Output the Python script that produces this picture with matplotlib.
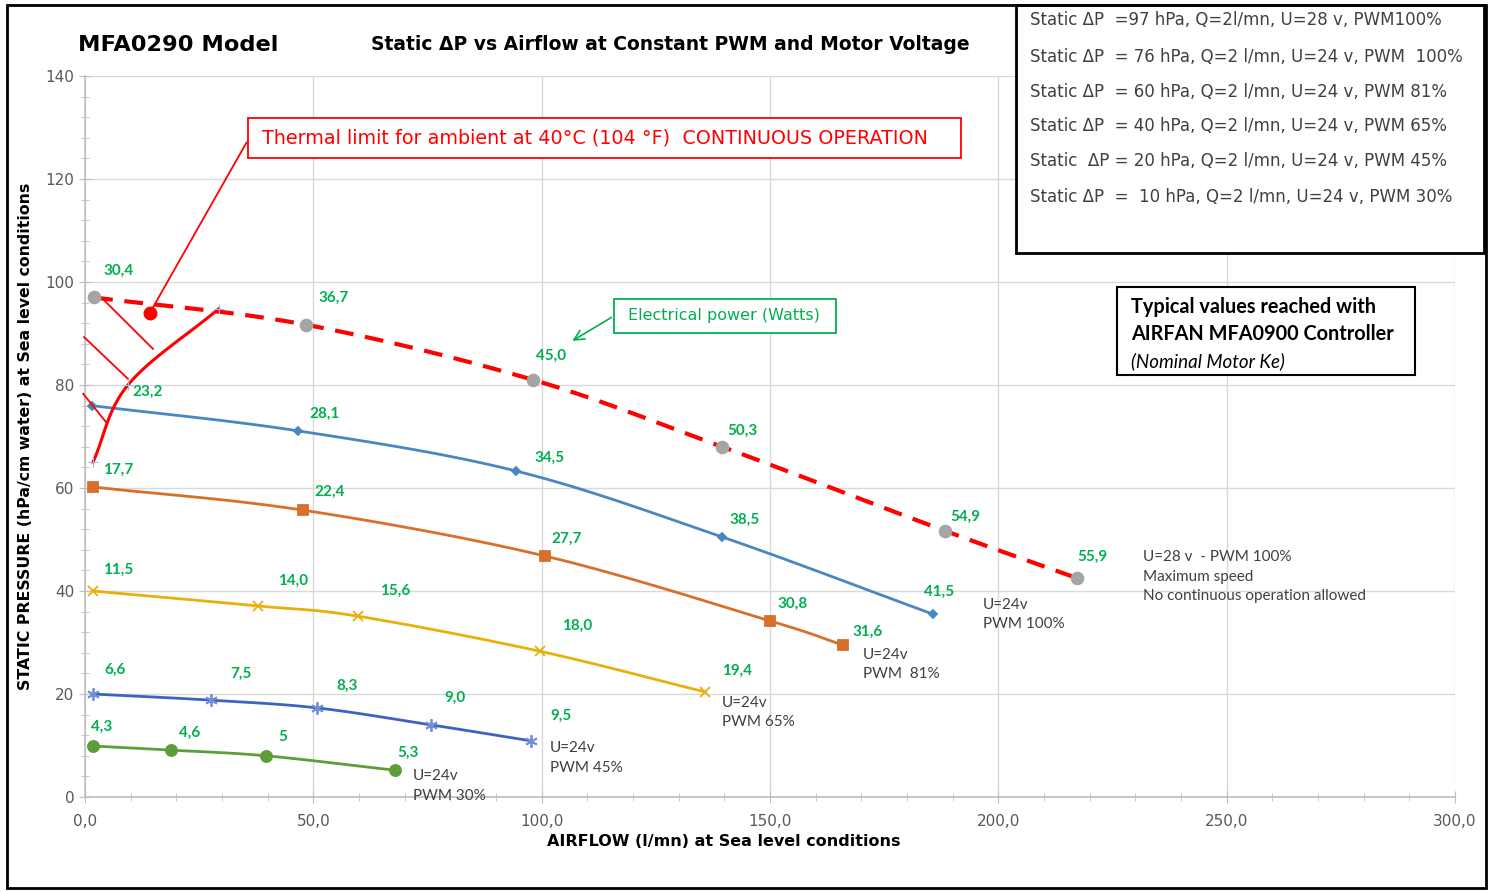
import numpy as np
import matplotlib.pyplot as plt
from matplotlib.patches import Rectangle

# Données (débit l/mn, pression hPa, puissance W)
q_28v_100 = [2.0, 48.4, 98.1, 139.5, 188.3, 217.2]
p_28v_100 = [97.0, 91.7, 81.0, 68.0, 51.7, 42.5]
w_28v_100 = ["30,4", "36,7", "45,0", "50,3", "54,9", "55,9"]

q_24v_100 = [1.5, 46.6, 94.4, 139.5, 185.7]
p_24v_100 = [76.0, 71.1, 63.3, 50.5, 35.5]
w_24v_100 = ["23,2", "28,1", "34,5", "38,5", "41,5"]

q_24v_81 = [1.75, 47.7, 100.7, 150.0, 166.0]
p_24v_81 = [60.2, 55.7, 46.8, 34.2, 29.5]
w_24v_81 = ["17,7", "22,4", "27,7", "30,8", "31,6"]

q_24v_65 = [1.75, 37.9, 59.8, 99.6, 135.8]
p_24v_65 = [40.0, 37.1, 35.1, 28.3, 20.4]
w_24v_65 = ["11,5", "14,0", "15,6", "18,0", "19,4"]

q_24v_45 = [1.75, 27.6, 50.8, 75.8, 97.7]
p_24v_45 = [20.0, 18.8, 17.3, 14.0, 10.9]
w_24v_45 = ["6,6", "7,5", "8,3", "9,0", "9,5"]

q_24v_30 = [1.75, 18.8, 39.6, 67.9]
p_24v_30 = [9.9, 9.1, 8.0, 5.2]
w_24v_30 = ["4,3", "4,6", "5", "5,3"]

# Limite thermique (40°C)
q_thermal = [1.75, 9.4, 29.3]
p_thermal = [65.0, 80.0, 94.8]
q_red_dot = [14.2]
p_red_dot = [94.0]

x_ticks = [0, 50, 100, 150, 200, 250, 300]
y_ticks = [0, 20, 40, 60, 80, 100, 120, 140]

legend_lines = [
    "Static \u0394P  =97 hPa, Q=2l/mn, U=28 v, PWM100%",
    "Static \u0394P  = 76 hPa, Q=2 l/mn, U=24 v, PWM  100%",
    "Static \u0394P  = 60 hPa, Q=2 l/mn, U=24 v, PWM 81%",
    "Static \u0394P  = 40 hPa, Q=2 l/mn, U=24 v, PWM 65%",
    "Static  \u0394P = 20 hPa, Q=2 l/mn, U=24 v, PWM 45%",
    "Static \u0394P  =  10 hPa, Q=2 l/mn, U=24 v, PWM 30%",
]

W, H = 1491, 892


def fx(px):
    return px / W


def fy(py):
    return 1 - py / H


def lisse(xs, ys, n=25):
    # courbe lissée type Excel (Catmull-Rom) passant par les points
    pts = np.column_stack([xs, ys]).astype(float)
    p = np.vstack([2 * pts[0] - pts[1], pts, 2 * pts[-1] - pts[-2]])
    out = []
    t = np.linspace(0, 1, n)[:, None]
    for i in range(1, len(p) - 2):
        p0, p1, p2, p3 = p[i - 1], p[i], p[i + 1], p[i + 2]
        seg = 0.5 * (2 * p1 + (-p0 + p2) * t + (2 * p0 - 5 * p1 + 4 * p2 - p3) * t ** 2
                     + (-p0 + 3 * p1 - 3 * p2 + p3) * t ** 3)
        out.append(seg)
    c = np.vstack(out)
    return c[:, 0], c[:, 1]


fig = plt.figure(figsize=(14.91, 8.92), dpi=100)
ax = fig.add_axes([fx(85), fy(797), fx(1455) - fx(85), fy(76) - fy(797)])

VERT = "#00B050"
font_g = "DejaVu Sans"
font_c = "Lato"

series = [
    (q_28v_100, p_28v_100, w_28v_100, "#FF0000", "o", "#A5A5A5", 8.5, "--",
     [(24, 27), (28, 27), (18, 24), (20, 16), (20, 14), (15, 21)]),
    (q_24v_100, p_24v_100, w_24v_100, "#4A86C0", "D", "#4A86C0", 4, "-",
     [(56, 14), (27, 17), (33, 13), (23, 17), (6, 22)]),
    (q_24v_81, p_24v_81, w_24v_81, "#D8702C", "s", "#D8702C", 7, "-",
     [(25, 17), (27, 18), (22, 17), (23, 17), (25, 13)]),
    (q_24v_65, p_24v_65, w_24v_65, "#E8B00A", "x", "#E8B00A", 7, "-",
     [(25, 21), (35, 25), (37, 25), (37, 25), (32, 21)]),
    (q_24v_45, p_24v_45, w_24v_45, "#3D63C0", (6, 2, 0), "#6F8FD8", 9, "-",
     [(22, 24), (30, 26), (30, 22), (24, 27), (30, 25)]),
    (q_24v_30, p_24v_30, w_24v_30, "#5E9E3A", "o", "#5E9E3A", 8, "-",
     [(9, 19), (19, 17), (17, 19), (13, 17)]),
]

for q, p, w, col, mk, mcol, ms, ls, offs in series:
    xs, ys = lisse(q, p)
    if ls == "--":
        ax.plot(xs, ys, color=col, lw=3, ls=(0, (4.5, 2.8)), zorder=3)
    else:
        ax.plot(xs, ys, color=col, lw=2, zorder=3)
    ax.plot(q, p, ls="none", marker=mk, color=mcol, ms=ms, mew=1.3, zorder=4)
    for xi, yi, lab, (dx, dy) in zip(q, p, w, offs):
        ax.annotate(lab, (xi, yi), xytext=(dx * 0.72, dy * 0.72), textcoords="offset points",
                    ha="center", va="center", color=VERT, fontsize=11, fontweight="bold",
                    family=font_c)

# courbe limite thermique
xs, ys = lisse(q_thermal, p_thermal)
ax.plot(xs, ys, color="#FF0000", lw=2.2, zorder=5)
ax.plot(q_thermal, p_thermal, ls="none", marker="+", color="#9DB7E8", ms=7, mew=0.8, zorder=5)
ax.plot(q_red_dot, p_red_dot, ls="none", marker="o", color="#FF0000", ms=9, zorder=6)

# hachures de la zone limite
hachures = [((3.9, 96.7), (14.9, 87.0)), ((-0.2, 89.3), (9.4, 81.2)), ((-0.4, 78.3), (4.6, 72.8))]
for (x0, y0), (x1, y1) in hachures:
    ax.plot([x0, x1], [y0, y1], color="#FF0000", lw=1.3, clip_on=False, zorder=5)

# axes
ax.set_xlim(0, 300)
ax.set_ylim(0, 140)
ax.set_xticks(x_ticks)
ax.set_xticklabels([f"{v:.1f}".replace(".", ",") for v in x_ticks])
ax.set_yticks(y_ticks)
ax.set_xticks(np.arange(0, 301, 10), minor=True)
ax.set_yticks(np.arange(0, 141, 4), minor=True)
ax.grid(True, which="major", color="#D9D9D9", lw=1)
ax.set_axisbelow(True)
for s in ["top", "right"]:
    ax.spines[s].set_visible(False)
for s in ["left", "bottom"]:
    ax.spines[s].set_color("#BFBFBF")
    ax.spines[s].set_linewidth(1.2)
ax.tick_params(which="both", direction="inout", color="#BFBFBF", labelcolor="#595959",
               labelsize=11)
ax.tick_params(which="major", length=8)
ax.tick_params(which="minor", length=6)
ax.tick_params(axis="x", pad=8)
for t in ax.get_xticklabels() + ax.get_yticklabels():
    t.set_family(font_g)

ax.set_xlabel("AIRFLOW (l/mn) at Sea level conditions", fontsize=11.5, fontweight="bold",
              family=font_g)
ax.xaxis.set_label_coords((724 - 85) / 1370, -(841 - 797) / 721, transform=ax.transAxes)
ax.xaxis.label.set_va("center")
ax.set_ylabel("STATIC PRESSURE (hPa/cm water) at Sea level conditions", fontsize=11.3,
              fontweight="bold", family=font_g, labelpad=9)

# titres
fig.text(fx(78), fy(45), "MFA0290 Model", fontsize=16.2, fontweight="bold", family=font_g,
         ha="left", va="center")
fig.text(fx(670), fy(44), "Static \u0394P vs Airflow at Constant PWM and Motor Voltage",
         fontsize=13.5, fontweight="bold", family=font_g, ha="center", va="center")

# encadré limite thermique
ax.add_patch(Rectangle((35.7, 124.1), 191.8 - 35.7, 131.8 - 124.1, fc="white", ec="#FF0000",
                       lw=1.3, zorder=7))
ax.text(38.8, 127.9, "Thermal limit for ambient at 40\u00b0C (104 \u00b0F)  CONTINUOUS OPERATION",
        color="#FF0000", fontsize=13.8, family=font_g, ha="left", va="center", zorder=8)
ax.annotate("", xy=(q_red_dot[0], p_red_dot[0]), xytext=(35.7, 127.6),
            arrowprops=dict(arrowstyle="-", color="#FF0000", lw=1.3), zorder=6)

# encadré puissance électrique
ax.add_patch(Rectangle((115.8, 90.1), 164.4 - 115.8, 96.7 - 90.1, fc="white", ec=VERT,
                       lw=1.3, zorder=7))
ax.text(119.0, 93.4, "Electrical power (Watts)", color=VERT, fontsize=11.5, family=font_g,
        ha="left", va="center", zorder=8)
ax.annotate("", xy=(106.2, 88.3), xytext=(115.8, 93.4),
            arrowprops=dict(arrowstyle="->", color=VERT, lw=1.2, mutation_scale=18))

# étiquettes de fin de courbe
fin = [
    (1143, 559, "U=28 v  - PWM 100%\nMaximum speed\nNo continuous operation allowed"),
    (983, 607, "U=24v\nPWM 100%"),
    (863, 657, "U=24v\nPWM  81%"),
    (722, 705, "U=24v\nPWM 65%"),
    (550, 750, "U=24v\nPWM 45%"),
    (413, 778, "U=24v\nPWM 30%"),
]
for px, py, txt in fin:
    fig.text(fx(px), fy(py - 9), txt, fontsize=11, color="#404040", family=font_c,
             ha="left", va="top", linespacing=1.5)

# encadré valeurs typiques
fig.patches.append(Rectangle((fx(1117), fy(375)), fx(1415) - fx(1117), fy(287) - fy(375),
                             transform=fig.transFigure, fc="white", ec="black", lw=1.5))
fig.text(fx(1131), fy(307), "Typical values reached with", fontsize=14.3, fontweight="bold",
         family=font_c, va="center")
fig.text(fx(1131), fy(334), "AIRFAN MFA0900 Controller", fontsize=14.3, fontweight="bold",
         family=font_c, va="center")
fig.text(fx(1131), fy(361), "(Nominal Motor Ke)", fontsize=13.5, style="italic",
         family=font_c, va="center")

# encadré légende en haut à droite
fig.patches.append(Rectangle((fx(1016), fy(253)), fx(1484) - fx(1016), fy(5) - fy(253),
                             transform=fig.transFigure, fc="white", ec="black", lw=2))
for ligne, py in zip(legend_lines, [20, 57, 92, 126, 161, 197]):
    fig.text(fx(1030), fy(py), ligne, fontsize=12, color="#404040", family=font_g, va="center")

# cadre de la figure
fig.patches.append(Rectangle((fx(7), fy(888)), fx(1486) - fx(7), fy(5) - fy(888),
                             transform=fig.transFigure, fc="none", ec="black", lw=2))

fig.savefig("out.png", dpi=100)
